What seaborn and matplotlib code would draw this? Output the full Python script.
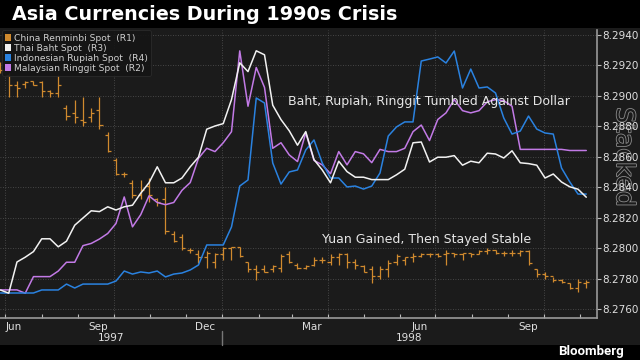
import pandas as pd
import matplotlib
matplotlib.use("Agg")
import matplotlib.pyplot as plt
import matplotlib.dates as mdates
import matplotlib.transforms as mtransforms
import matplotlib.patheffects as pe
from matplotlib.patches import Patch, Rectangle
from matplotlib.lines import Line2D
import seaborn as sns

# weekly observations, late Jun 1997 - early Nov 1998
weeks = pd.date_range("1997-06-27", periods=72, freq="7D")

# China renminbi spot (R1), weekly bars
cny_open = [8.2920, 8.2914, 8.2907, 8.2908, 8.2910, 8.2909, 8.2903, 8.2902, 8.2892, 8.2889,
            8.2884, 8.2886, 8.2891, 8.2874, 8.2858, 8.2849, 8.2843, 8.2835, 8.2841, 8.2832,
            8.2832, 8.2809, 8.2807, 8.2799, 8.2796, 8.2794, 8.2791, 8.2796, 8.2800, 8.2801,
            8.2791, 8.2786, 8.2786, 8.2786, 8.2787, 8.2796, 8.2789, 8.2787, 8.2789, 8.2792,
            8.2791, 8.2794, 8.2796, 8.2791, 8.2788, 8.2786, 8.2782, 8.2786, 8.2791, 8.2792,
            8.2794, 8.2795, 8.2796, 8.2796, 8.2796, 8.2797, 8.2796, 8.2797, 8.2796, 8.2798,
            8.2799, 8.2797, 8.2797, 8.2797, 8.2798, 8.2786, 8.2783, 8.2782, 8.2779, 8.2777,
            8.2774, 8.2777]
cny_high = [8.2922, 8.2915, 8.2910, 8.2910, 8.2910, 8.2910, 8.2904, 8.2914, 8.2894, 8.2897,
            8.2899, 8.2892, 8.2899, 8.2876, 8.2859, 8.2850, 8.2845, 8.2845, 8.2846, 8.2833,
            8.2840, 8.2811, 8.2809, 8.2800, 8.2799, 8.2798, 8.2797, 8.2801, 8.2801, 8.2801,
            8.2791, 8.2789, 8.2789, 8.2789, 8.2796, 8.2798, 8.2790, 8.2789, 8.2794, 8.2794,
            8.2796, 8.2797, 8.2797, 8.2793, 8.2789, 8.2788, 8.2788, 8.2792, 8.2796, 8.2794,
            8.2797, 8.2797, 8.2797, 8.2797, 8.2799, 8.2797, 8.2797, 8.2797, 8.2799, 8.2800,
            8.2799, 8.2798, 8.2799, 8.2799, 8.2799, 8.2786, 8.2784, 8.2781, 8.2780, 8.2777,
            8.2780, 8.2779]
cny_low = [8.2915, 8.2899, 8.2899, 8.2905, 8.2907, 8.2899, 8.2899, 8.2899, 8.2884, 8.2882,
           8.2880, 8.2883, 8.2878, 8.2863, 8.2848, 8.2847, 8.2833, 8.2832, 8.2830, 8.2828,
           8.2809, 8.2804, 8.2799, 8.2797, 8.2790, 8.2787, 8.2787, 8.2792, 8.2792, 8.2794,
           8.2784, 8.2779, 8.2784, 8.2784, 8.2784, 8.2790, 8.2786, 8.2786, 8.2788, 8.2790,
           8.2789, 8.2789, 8.2787, 8.2786, 8.2784, 8.2777, 8.2780, 8.2781, 8.2789, 8.2789,
           8.2791, 8.2794, 8.2794, 8.2794, 8.2789, 8.2794, 8.2792, 8.2794, 8.2796, 8.2796,
           8.2796, 8.2795, 8.2795, 8.2795, 8.2789, 8.2781, 8.2780, 8.2778, 8.2777, 8.2773,
           8.2771, 8.2774]
cny_close = [8.2917, 8.2907, 8.2905, 8.2909, 8.2907, 8.2903, 8.2902, 8.2907, 8.2887, 8.2886,
             8.2883, 8.2889, 8.2881, 8.2864, 8.2849, 8.2849, 8.2835, 8.2838, 8.2835, 8.2830,
             8.2811, 8.2805, 8.2800, 8.2799, 8.2794, 8.2797, 8.2796, 8.2800, 8.2801, 8.2795,
             8.2786, 8.2784, 8.2784, 8.2788, 8.2795, 8.2791, 8.2787, 8.2788, 8.2792, 8.2792,
             8.2794, 8.2796, 8.2791, 8.2789, 8.2784, 8.2782, 8.2786, 8.2790, 8.2795, 8.2794,
             8.2795, 8.2796, 8.2796, 8.2795, 8.2797, 8.2796, 8.2797, 8.2796, 8.2798, 8.2799,
             8.2797, 8.2797, 8.2797, 8.2798, 8.2790, 8.2783, 8.2782, 8.2779, 8.2778, 8.2774,
             8.2778, 8.2778]

# Thai baht spot (R3)
baht = [25.8, 25.4, 29.3, 29.9, 30.6, 32.2, 32.2, 31.2, 31.9, 33.9,
        34.8, 35.7, 35.6, 36.2, 35.8, 36.2, 36.4, 37.9, 39.2, 41.2,
        39.2, 39.2, 39.8, 41.2, 42.4, 45.9, 46.3, 46.6, 49.6, 54.2,
        53.1, 55.7, 55.2, 48.9, 47.1, 45.7, 43.9, 45.6, 42.1, 40.8,
        39.2, 41.9, 40.6, 39.9, 39.9, 39.6, 39.6, 39.6, 40.2, 40.9,
        44.2, 44.3, 41.8, 42.4, 42.4, 42.6, 41.4, 41.9, 41.7, 42.9,
        42.8, 42.3, 43.2, 41.7, 41.6, 41.4, 39.8, 40.3, 39.3, 38.7,
        38.4, 37.4]

# Indonesian rupiah spot (R4)
rupiah = [2430, 2430, 2430, 2430, 2430, 2600, 2600, 2600, 2930, 2710,
          2930, 2930, 2930, 2930, 3100, 3660, 3490, 3610, 3550, 3660,
          3330, 3490, 3550, 3720, 4000, 5120, 5120, 5120, 6130, 8420,
          8760, 13350, 13070, 9710, 8530, 9210, 9320, 10440, 11000, 9710,
          8870, 8870, 8370, 8420, 8250, 8420, 9150, 11220, 11730, 12010,
          12010, 15420, 15530, 15650, 15310, 15980, 13910, 14970, 13910, 13970,
          13630, 12230, 11330, 11500, 12340, 11610, 11390, 11330, 9430, 8650,
          7970, 7970]

# Malaysian ringgit spot (R2)
ringgit = [2.53, 2.53, 2.53, 2.50, 2.65, 2.65, 2.65, 2.70, 2.78, 2.78,
           2.93, 2.95, 2.99, 3.04, 3.13, 3.37, 3.10, 3.21, 3.38, 3.32,
           3.30, 3.32, 3.43, 3.50, 3.72, 3.81, 3.78, 3.86, 3.96, 4.69,
           4.19, 4.54, 4.36, 3.81, 3.86, 3.75, 3.69, 3.95, 3.70, 3.66,
           3.58, 3.78, 3.66, 3.78, 3.76, 3.68, 3.80, 3.78, 3.78, 3.81,
           3.96, 4.02, 3.88, 4.07, 4.13, 4.25, 4.15, 4.13, 4.15, 4.23,
           4.25, 4.24, 4.19, 3.80, 3.80, 3.80, 3.80, 3.80, 3.80, 3.79,
           3.79, 3.79]

r1_ticks = [8.2760, 8.2780, 8.2800, 8.2820, 8.2840, 8.2860, 8.2880, 8.2900, 8.2920, 8.2940]
quarter_starts = ["1997-07-01", "1997-10-01", "1998-01-01", "1998-04-01", "1998-07-01", "1998-10-01"]
month_labels = ["Jun", "Sep", "Dec", "Mar", "Jun", "Sep"]
month_label_dates = ["1997-07-08", "1997-09-18", "1997-12-18", "1998-03-18", "1998-06-18", "1998-09-18"]
year_labels = ["1997", "1998"]
legend_labels = ["China Renminbi Spot  (R1)", "Thai Baht Spot  (R3)",
                 "Indonesian Rupiah Spot  (R4)", "Malaysian Ringgit Spot  (R2)"]

ORANGE = "#d08a2e"
WHITE = "#f2f2f2"
BLUE = "#2a82e0"
PURPLE = "#c27ae6"
PANEL = "#1b1b1b"

sns.set_theme(style="dark")
plt.rcParams["font.family"] = ["DejaVu Sans"]

fig = plt.figure(figsize=(6.4, 3.6), dpi=100)
fig.patch.set_facecolor("black")
fig.patches.append(Rectangle((0, 15 / 360), 1, 317 / 360, transform=fig.transFigure,
                             facecolor=PANEL, edgecolor="none", zorder=-10))

ax = fig.add_axes([0, 42 / 360, 597 / 640, 288 / 360])
ax.set_facecolor(PANEL)

# renminbi OHLC bars
half = pd.Timedelta(days=2.6)
ax.vlines(weeks, cny_low, cny_high, color=ORANGE, lw=0.9)
ax.hlines(cny_open, weeks - half, weeks, color=ORANGE, lw=0.9)
ax.hlines(cny_close, weeks, weeks + half, color=ORANGE, lw=0.9)
ax.set_ylim(8.27541, 8.29433)

# the other three on hidden axes of their own
series = [(ringgit, PURPLE, (2.276, 4.879)),
          (rupiah, BLUE, (1030, 17158)),
          (baht, WHITE, (22.3, 58.3))]
top = ax
for vals, col, lim in series:
    tw = ax.twinx()
    sns.lineplot(x=weeks, y=vals, ax=tw, color=col, lw=1.1)
    tw.set_ylim(*lim)
    tw.axis("off")
    top = tw

x0 = weeks[0] - pd.Timedelta(days=0.4)
ax.set_xlim(x0, x0 + pd.Timedelta(days=506.5))

# axes styling
for s in ["left", "top"]:
    ax.spines[s].set_visible(False)
for s in ["right", "bottom"]:
    ax.spines[s].set_visible(True)
    ax.spines[s].set_color("#9a9a9a")
    ax.spines[s].set_linewidth(1.2)

ax.yaxis.tick_right()
ax.set_yticks(r1_ticks)
ax.set_yticklabels([f"{t:.4f}" for t in r1_ticks])
ax.tick_params(axis="y", which="both", right=True, left=False, direction="out", length=3,
               width=0.8, color="#bbbbbb", labelcolor="#e0e0e0", labelsize=7.5, pad=1)
ax.set_xticks(pd.to_datetime(quarter_starts))
ax.set_xticklabels([])
ax.xaxis.set_minor_locator(mdates.MonthLocator())
ax.tick_params(axis="x", which="both", bottom=True, direction="in", length=3,
               width=0.8, color="#bbbbbb")
ax.grid(True, which="major", color="#555555", linestyle=(0, (1, 2)), linewidth=0.6)
ax.set_xlabel("")
ax.set_ylabel("")

# month & year labels below the axis
bt = mtransforms.blended_transform_factory(ax.transData, fig.transFigure)
for d, lab in zip(month_label_dates, month_labels):
    ax.text(pd.Timestamp(d), 1 - 327 / 360, lab, transform=bt, ha="center", va="center",
            fontsize=7.5, color="#e0e0e0", clip_on=False)
xl = ax.get_xlim()
split = mdates.date2num(pd.Timestamp("1998-01-01"))
for c, lab in zip([(xl[0] + split) / 2, (split + xl[1]) / 2], year_labels):
    ax.text(c, 1 - 338 / 360, lab, transform=bt, ha="center", va="center",
            fontsize=7.5, color="#e0e0e0", clip_on=False)
fig.add_artist(Line2D([split, split], [1 - 345 / 360, 1 - 331 / 360], transform=bt,
                      color="#777777", lw=1))

# legend
handles = [Patch(facecolor=c, edgecolor="none") for c in [ORANGE, WHITE, BLUE, PURPLE]]
leg = top.legend(handles, legend_labels, loc="upper left", bbox_to_anchor=(0.0, 1.005),
                 fontsize=6.6, labelcolor="#d0d0d0", frameon=True, facecolor="#151515",
                 edgecolor="#2c2c2c", framealpha=0.9, handlelength=0.7, handleheight=0.7,
                 handletextpad=0.3, labelspacing=0.12, borderpad=0.35, borderaxespad=0.2)
leg.get_frame().set_linewidth(0.6)

# annotations and header
fig.text(288 / 640, 1 - 101 / 360, "Baht, Rupiah, Ringgit Tumbled Against Dollar",
         fontsize=9, color="#e6e6e6", va="center", ha="left")
fig.text(322 / 640, 1 - 239 / 360, "Yuan Gained, Then Stayed Stable",
         fontsize=9, color="#e6e6e6", va="center", ha="left")
fig.text(12 / 640, 1 - 14 / 360, "Asia Currencies During 1990s Crisis",
         fontsize=13.8, fontweight="bold", color="white", va="center", ha="left")
fig.text(624 / 640, 1 - 157 / 360, "Stacked", rotation=270, fontsize=18,
         color=PANEL, ha="center", va="center", zorder=-1,
         path_effects=[pe.withStroke(linewidth=1.2, foreground="#8c8c8c")])
fig.text(624 / 640, 1 - 351 / 360, "Bloomberg", fontsize=9.5, fontweight="bold",
         color="white", ha="right", va="center", family=["Roboto", "DejaVu Sans"])

fig.savefig("out.png", dpi=100, facecolor=fig.get_facecolor())
